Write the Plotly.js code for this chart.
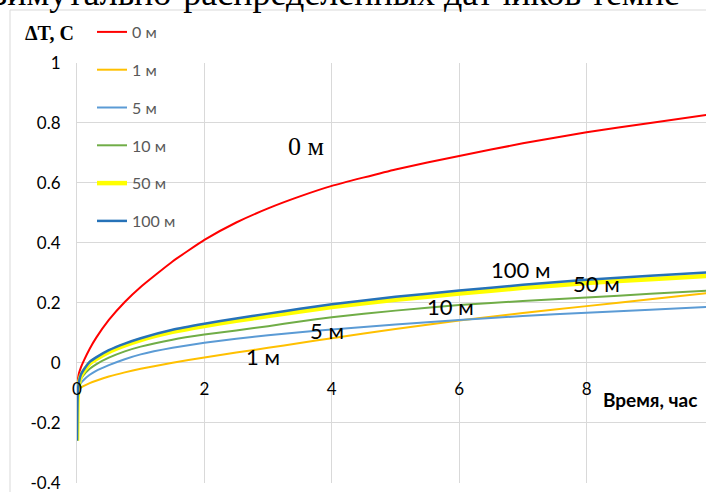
<!DOCTYPE html>
<html>
<head>
<meta charset="utf-8">
<script src="https://cdn.plot.ly/plotly-3.0.1.min.js"></script>
<style>html,body{margin:0;padding:0;background:#fff;}#chart{width:706px;height:492px;}</style>
</head>
<body>
<div id="chart"></div>
<script>
// Time, hours
const time = [0.001, 0.01, 0.03, 0.06, 0.1, 0.2, 0.3, 0.5, 0.75, 1, 1.5, 2, 2.5, 3, 3.5, 4, 5, 6, 7, 8, 9, 10];
// Temperature change, C, per depth
const dT_0m   = [-0.075, -0.06, -0.036, -0.016, 0.004, 0.047, 0.083, 0.143, 0.203, 0.253, 0.338, 0.41, 0.468, 0.515, 0.555, 0.59, 0.645, 0.69, 0.732, 0.769, 0.80, 0.83];
const dT_1m   = [-0.1, -0.095, -0.088, -0.083, -0.078, -0.068, -0.06, -0.046, -0.032, -0.02, 0.0, 0.018, 0.034, 0.05, 0.066, 0.082, 0.113, 0.141, 0.166, 0.189, 0.212, 0.235];
const dT_5m   = [-0.1, -0.09, -0.078, -0.068, -0.058, -0.04, -0.027, -0.008, 0.012, 0.028, 0.05, 0.067, 0.08, 0.092, 0.102, 0.111, 0.128, 0.143, 0.156, 0.167, 0.177, 0.187];
const dT_10m  = [-0.1, -0.085, -0.07, -0.055, -0.042, -0.02, -0.005, 0.017, 0.038, 0.054, 0.077, 0.094, 0.108, 0.122, 0.138, 0.152, 0.174, 0.193, 0.206, 0.218, 0.23, 0.242];
const dT_50m  = [-0.26, -0.115, -0.07, -0.045, -0.03, -0.002, 0.012, 0.036, 0.058, 0.076, 0.103, 0.123, 0.14, 0.156, 0.171, 0.186, 0.21, 0.231, 0.25, 0.266, 0.279, 0.291];
const dT_100m = [-0.26, -0.11, -0.065, -0.04, -0.025, 0.003, 0.018, 0.042, 0.064, 0.082, 0.11, 0.13, 0.148, 0.164, 0.18, 0.195, 0.22, 0.241, 0.26, 0.277, 0.29, 0.303];

const seriesNames = ["0 м", "1 м", "5 м", "10 м", "50 м", "100 м"];
const seriesData = [dT_0m, dT_1m, dT_5m, dT_10m, dT_50m, dT_100m];
const seriesColors = ["#FF0000", "#FFC000", "#5B9BD5", "#70AD47", "#FFFF00", "#2672B8"];
const seriesWidths = [2, 2, 2, 2, 4.5, 2.5];

const yTicks = [-0.4, -0.2, 0, 0.2, 0.4, 0.6, 0.8, 1];
const yTickText = ["-0.4", "-0.2", "0", "0.2", "0.4", "0.6", "0.8", "1"];
const xTicks = [0, 2, 4, 6, 8, 10];

const curveLabels = [
  {text: "0 м", t: 3.6, v: 0.72, serif: true},
  {text: "100 м", t: 6.97, v: 0.31},
  {text: "50 м", t: 8.16, v: 0.263},
  {text: "10 м", t: 5.87, v: 0.187},
  {text: "5 м", t: 3.93, v: 0.107},
  {text: "1 м", t: 2.92, v: 0.02}
];

const sans = "Lato, 'Open Sans', sans-serif";
const serif = "'Liberation Serif', 'DejaVu Serif', serif";

const traces = seriesNames.map((n, i) => ({
  x: time, y: seriesData[i], name: n, type: "scatter", mode: "lines",
  legendgroup: "g" + i,
  line: {color: seriesColors[i], width: seriesWidths[i], shape: "spline", smoothing: 0.4}
}));

const annotations = curveLabels.map(c => ({
  x: c.t, y: c.v, xref: "x", yref: "y", xanchor: "center", yanchor: "middle", text: c.text, showarrow: false,
  font: c.serif ? {family: serif, size: 26, color: "#000"} : {family: sans, size: 22, color: "#000"}
}));
annotations.push({
  x: (49 - 77) / 629, y: (483 - 33) / 420, xref: "paper", yref: "paper", xanchor: "center", yanchor: "middle",
  text: "<b>ΔT, C</b>", showarrow: false, font: {family: serif, size: 20, color: "#000"}
});
annotations.push({
  x: (650 - 77) / 629, y: (483 - 399) / 420, xref: "paper", yref: "paper", xanchor: "center", yanchor: "middle",
  text: "<b>Время, час</b>", showarrow: false, font: {family: sans, size: 19, color: "#000"}
});
annotations.push({
  x: (-25 - 77) / 629, y: (483 - 15) / 420, xref: "paper", yref: "paper", xanchor: "left", yanchor: "bottom",
  text: "азимутально-распределенных датчиков темпе", showarrow: false,
  font: {family: serif, size: 36, color: "#000"}
});

const layout = {
  width: 706, height: 492,
  margin: {l: 77, r: 0, t: 63, b: 9, pad: 0},
  paper_bgcolor: "#fff", plot_bgcolor: "#fff",
  showlegend: true,
  legend: {
    x: (92 - 77) / 629, y: (483 - 15) / 420, xanchor: "left", yanchor: "top",
    traceorder: "grouped", tracegroupgap: 14,
    bgcolor: "rgba(255,255,255,0)",
    font: {family: sans, size: 16, color: "#595959"}
  },
  xaxis: {
    range: [0, 9.875], tickvals: xTicks, showgrid: true, gridcolor: "#D9D9D9", gridwidth: 1,
    zeroline: false, showline: false, anchor: "free", position: 0.4 / 1.401,
    ticks: "", ticklabelstandoff: 14, ticklabeloverflow: "allow",
    tickfont: {family: sans, size: 17, color: "#000"}
  },
  yaxis: {
    range: [-0.401, 1], tickvals: yTicks, ticktext: yTickText, showgrid: true, gridcolor: "#D9D9D9", gridwidth: 1,
    zeroline: false, showline: true, linecolor: "#D9D9D9", linewidth: 1,
    ticks: "", ticklabelstandoff: 12, ticklabeloverflow: "allow",
    tickfont: {family: sans, size: 17, color: "#000"}
  },
  shapes: [
    {type: "line", xref: "paper", yref: "paper", x0: (10 - 77) / 629, x1: (10 - 77) / 629, y0: -0.1, y1: (483 - 10) / 420, line: {color: "#D9D9D9", width: 1}},
    {type: "line", xref: "paper", yref: "paper", x0: (10 - 77) / 629, x1: 1.1, y0: (483 - 10) / 420, y1: (483 - 10) / 420, line: {color: "#D9D9D9", width: 1}}
  ],
  annotations: annotations
};

Plotly.newPlot("chart", traces, layout, {staticPlot: true, displayModeBar: false});
</script>
</body>
</html>
